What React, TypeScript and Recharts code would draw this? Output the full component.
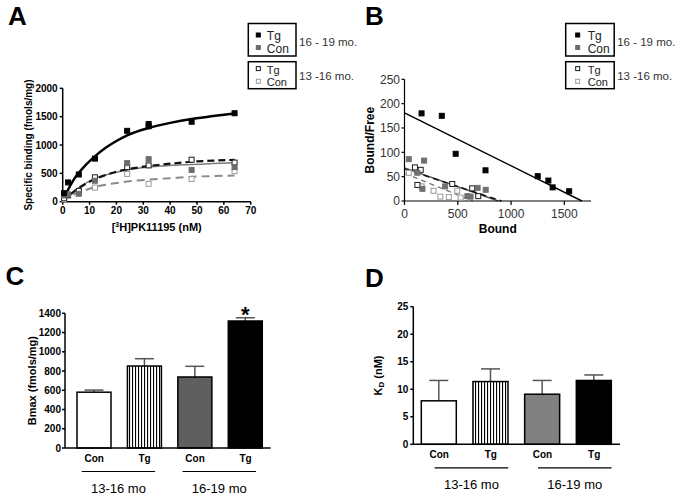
import React from 'react';
import {
  ComposedChart,
  BarChart,
  Bar,
  Cell,
  Line,
  Scatter,
  XAxis,
  YAxis,
  Label,
  LabelList,
} from 'recharts';

const FONT = '"Liberation Sans", Arial, Helvetica, sans-serif';

// ---------- A: saturation binding ----------
const satTicksX = [0, 10, 20, 30, 40, 50, 60, 70];
const satTicksY = [0, 500, 1000, 1500, 2000];

// points [nM, fmols/mg]
const satTgOld = [[0.5, 150], [2, 340], [6, 480], [12, 760], [24, 1250], [32, 1330], [32, 1370], [48, 1410], [64, 1560]];
const satConOld = [[0.5, 110], [2, 130], [6, 140], [12, 370], [24, 680], [32, 750], [48, 560], [64, 610]];
const satTgYoung = [[0.5, 60], [2, 120], [6, 190], [12, 430], [24, 610], [32, 640], [48, 740], [64, 690]];
const satConYoung = [[0.5, 40], [2, 100], [6, 170], [12, 250], [24, 490], [32, 315], [48, 400], [64, 540]];

// fitted curves
const satFitTgOld = [[0, 0], [2, 210], [4, 380], [6, 510], [8, 620], [12, 800], [16, 950], [20, 1070], [24, 1170], [32, 1300], [40, 1390], [48, 1460], [56, 1510], [64, 1555]];
const satFitTgYoung = [[0, 0], [2, 90], [4, 170], [6, 240], [8, 300], [12, 400], [16, 470], [20, 530], [24, 570], [32, 630], [40, 670], [48, 705], [56, 725], [64, 738]];
const satFitConOld = [[0, 0], [2, 100], [4, 180], [6, 250], [8, 310], [12, 410], [16, 470], [20, 520], [24, 560], [32, 610], [40, 640], [48, 655], [56, 672], [64, 685]];
const satFitConYoung = [[0, 0], [2, 70], [4, 120], [6, 170], [8, 200], [12, 260], [16, 300], [20, 330], [24, 355], [32, 390], [40, 415], [48, 440], [56, 452], [64, 460]];

// ---------- B: Scatchard ----------
const scTicksX = [0, 500, 1000, 1500];
const scTicksY = [0, 50, 100, 150, 200, 250];

const scTgOld = [[160, 180], [350, 175], [480, 97], [760, 63], [1250, 51], [1350, 42], [1390, 28], [1545, 20]];
const scConOld = [[40, 86], [184, 83], [168, 25], [381, 30], [590, 10], [620, 9], [686, 27], [762, 23], [120, 58]];
const scTgYoung = [[98, 69], [152, 64], [121, 33], [448, 35], [635, 26], [692, 10]];
const scConYoung = [[40, 58], [160, 30], [273, 21], [336, 9], [416, 8], [495, 21], [527, 7]];

const scFitTgOld = [[0, 181], [1665, 0]];
const scFitConOld = [[0, 68], [880, 0]];
const scFitTgYoung = [[0, 66], [910, 0]];
const scFitConYoung = [[0, 57], [640, 0]];

// ---------- C / D: bar charts ----------
const barCats = ['Con', 'Tg', 'Con', 'Tg'];
const barGroups = ['13-16 mo', '13-16 mo', '16-19 mo', '16-19 mo'];

const bmaxMean = [580, 852, 738, 1320];
const bmaxSem = [22, 76, 111, 34];
const bmaxSig = ['', '', '', '*'];
const bmaxTicks = [0, 200, 400, 600, 800, 1000, 1200, 1400];

const kdMean = [7.9, 11.4, 9.1, 11.6];
const kdSem = [3.7, 2.3, 2.5, 1.0];
const kdTicks = [0, 5, 10, 15, 20, 25];

const legendRows = ['Tg', 'Con'];
const ageLabels = ['16 - 19 mo.', '13 -16 mo.'];

const pts = (arr: number[][]) => arr.map(([x, y]) => ({ x, y }));

const square = (fill: string, stroke: string, s = 5) => (p: any) => (
  <rect x={p.cx - s / 2} y={p.cy - s / 2} width={s} height={s} fill={fill} stroke={stroke} strokeWidth={1} />
);

const boldTick = { fontSize: 10, fontWeight: 'bold', fill: '#000', fontFamily: FONT };
const blackAxis = { stroke: '#000', strokeWidth: 1.5 };

const yTitle = (content: React.ReactNode, x: number, size: number) => (props: any) => {
  const { viewBox } = props;
  const cy = viewBox.y + viewBox.height / 2;
  return (
    <text
      x={x}
      y={cy}
      transform={`rotate(-90 ${x} ${cy})`}
      textAnchor="middle"
      dominantBaseline="central"
      fontSize={size}
      fontWeight="bold"
      fontFamily={FONT}
      fill="#000"
    >
      {content}
    </text>
  );
};

const xTitle = (content: React.ReactNode, dy: number, size: number) => (props: any) => {
  const { viewBox } = props;
  return (
    <text
      x={viewBox.x + viewBox.width / 2}
      y={viewBox.y + dy}
      textAnchor="middle"
      fontSize={size}
      fontWeight="bold"
      fontFamily={FONT}
      fill="#000"
    >
      {content}
    </text>
  );
};

function PanelA() {
  return (
    <ComposedChart width={340} height={250} margin={{ top: 88.3, right: 89.3, bottom: 18.3, left: 0 }}>
      <XAxis
        type="number"
        dataKey="x"
        domain={[0, 70]}
        ticks={satTicksX}
        interval={0}
        height={30}
        tickSize={3}
        tickMargin={2}
        axisLine={blackAxis}
        tickLine={blackAxis}
        tick={boldTick}
      >
        <Label
          content={xTitle(
            <>
              [<tspan dy={-4} fontSize={7}>3</tspan>
              <tspan dy={4}>H]PK11195 (nM)</tspan>
            </>,
            29.5,
            11
          )}
        />
      </XAxis>
      <YAxis
        type="number"
        dataKey="y"
        domain={[0, 2000]}
        ticks={satTicksY}
        interval={0}
        width={62.7}
        tickSize={3}
        tickMargin={2}
        axisLine={blackAxis}
        tickLine={blackAxis}
        tick={boldTick}
      >
        <Label content={yTitle('Specific  binding  (fmols/mg)', 28.3, 10)} />
      </YAxis>

      <Line data={pts(satFitConYoung)} dataKey="y" type="monotone" stroke="#8a8a8a" strokeWidth={2} strokeDasharray="8 5" dot={false} isAnimationActive={false} />
      <Line data={pts(satFitConOld)} dataKey="y" type="monotone" stroke="#7a7a7a" strokeWidth={1.5} dot={false} isAnimationActive={false} />
      <Line data={pts(satFitTgYoung)} dataKey="y" type="monotone" stroke="#111" strokeWidth={2.2} strokeDasharray="7 4" dot={false} isAnimationActive={false} />
      <Line data={pts(satFitTgOld)} dataKey="y" type="monotone" stroke="#000" strokeWidth={2.5} dot={false} isAnimationActive={false} />

      <Scatter data={pts(satConYoung)} shape={square('#fff', '#9a9a9a')} isAnimationActive={false} />
      <Scatter data={pts(satTgYoung)} shape={square('#fff', '#1a1a1a')} isAnimationActive={false} />
      <Scatter data={pts(satConOld)} shape={square('#6b6b6b', '#6b6b6b')} isAnimationActive={false} />
      <Scatter data={pts(satTgOld)} shape={square('#000', '#000')} isAnimationActive={false} />
    </ComposedChart>
  );
}

function PanelB() {
  const thinTick = { fontSize: 12, fill: '#333', fontFamily: FONT };
  const axis = { stroke: '#000', strokeWidth: 1.2 };
  return (
    <ComposedChart width={342} height={250} margin={{ top: 79.3, right: 91, bottom: 19, left: 0 }}>
      <XAxis
        type="number"
        dataKey="x"
        domain={[0, 1750]}
        ticks={scTicksX}
        interval={0}
        height={30}
        tickSize={4}
        tickMargin={4}
        axisLine={axis}
        tickLine={axis}
        tick={thinTick}
      >
        <Label content={xTitle('Bound', 32, 12)} />
      </XAxis>
      <YAxis
        type="number"
        dataKey="y"
        domain={[0, 250]}
        ticks={scTicksY}
        interval={0}
        width={64.5}
        tickSize={3}
        tickMargin={1.5}
        axisLine={axis}
        tickLine={axis}
        tick={thinTick}
      >
        <Label content={yTitle('Bound/Free', 30, 12)} />
      </YAxis>

      <Line data={pts(scFitConYoung)} dataKey="y" type="linear" stroke="#777" strokeWidth={1.3} strokeDasharray="5 4" dot={false} isAnimationActive={false} />
      <Line data={pts(scFitConOld)} dataKey="y" type="linear" stroke="#555" strokeWidth={1.5} dot={false} isAnimationActive={false} />
      <Line data={pts(scFitTgYoung)} dataKey="y" type="linear" stroke="#111" strokeWidth={1.5} strokeDasharray="6 4" dot={false} isAnimationActive={false} />
      <Line data={pts(scFitTgOld)} dataKey="y" type="linear" stroke="#000" strokeWidth={1.5} dot={false} isAnimationActive={false} />

      <Scatter data={pts(scConYoung)} shape={square('#fff', '#9a9a9a')} isAnimationActive={false} />
      <Scatter data={pts(scTgYoung)} shape={square('#fff', '#1a1a1a')} isAnimationActive={false} />
      <Scatter data={pts(scConOld)} shape={square('#707070', '#707070')} isAnimationActive={false} />
      <Scatter data={pts(scTgOld)} shape={square('#000', '#000')} isAnimationActive={false} />
    </ComposedChart>
  );
}

// category label + age group line/label below the axis
const groupTick = (lineFrom: number, lineTo: number, band: number) => (props: any) => {
  const { x, y, payload } = props;
  const i = Number(payload.value);
  const x1 = x + lineFrom;
  const x2 = x + band + lineTo;
  return (
    <g fontFamily={FONT}>
      <text x={x} y={y + 13.5} textAnchor="middle" fontSize={10} fontWeight="bold" fill="#000">
        {barCats[i]}
      </text>
      {i % 2 === 0 && (
        <>
          <line x1={x1} x2={x2} y1={y + 23.5} y2={y + 23.5} stroke="#000" strokeWidth={1.2} />
          <text x={(x1 + x2) / 2} y={y + 45} textAnchor="middle" fontSize={13} fill="#000">
            {barGroups[i]}
          </text>
        </>
      )}
    </g>
  );
};

const barWithError = (capHalf: number) => (props: any) => {
  const { x, y, width, height, fill, payload } = props;
  const errPx = payload.mean ? (payload.sem / payload.mean) * height : 0;
  const cx = x + width / 2;
  const top = y - errPx;
  return (
    <g>
      <line x1={cx} x2={cx} y1={y} y2={top} stroke="#555" strokeWidth={1.5} />
      <line x1={cx - capHalf} x2={cx + capHalf} y1={top} y2={top} stroke="#555" strokeWidth={1.5} />
      <rect x={x} y={y} width={width} height={height} fill={fill} stroke="#000" strokeWidth={1.5} />
    </g>
  );
};

const starLabel = (p: any) =>
  p.value ? (
    <text x={p.x + p.width / 2} y={p.y + 1} textAnchor="middle" fontSize={22} fontWeight="bold" fontFamily={FONT} fill="#000">
      {p.value}
    </text>
  ) : null;

function PanelC() {
  const rows = barCats.map((c, i) => ({ id: i, mean: bmaxMean[i], sem: bmaxSem[i], sig: bmaxSig[i] }));
  const fills = ['#fff', 'url(#stripeC)', '#5f5f5f', '#000'];
  return (
    <BarChart width={340} height={252} data={rows} margin={{ top: 63.3, right: 69.3, bottom: 4, left: 0 }}>
      <defs>
        <pattern id="stripeC" patternUnits="userSpaceOnUse" width={3} height={6}>
          <rect width={3} height={6} fill="#fff" />
          <rect width={1.1} height={6} fill="#000" />
        </pattern>
      </defs>
      <XAxis
        dataKey="id"
        interval={0}
        height={50}
        padding={{ left: 4, right: 0 }}
        tickSize={0}
        tickMargin={0}
        tickLine={false}
        axisLine={blackAxis}
        tick={groupTick(-12.5, 10.5, 50.4)}
      />
      <YAxis
        type="number"
        domain={[0, 1400]}
        ticks={bmaxTicks}
        interval={0}
        width={65}
        tickSize={3}
        tickMargin={1}
        axisLine={blackAxis}
        tickLine={blackAxis}
        tick={boldTick}
      >
        <Label content={yTitle('Bmax (fmols/mg)', 31.7, 11)} />
      </YAxis>
      <Bar dataKey="mean" barSize={34} shape={barWithError(9.5)} isAnimationActive={false}>
        {rows.map((r, i) => (
          <Cell key={r.id} fill={fills[i]} />
        ))}
        <LabelList dataKey="sig" content={starLabel} />
      </Bar>
    </BarChart>
  );
}

function PanelD() {
  const rows = barCats.map((c, i) => ({ id: i, mean: kdMean[i], sem: kdSem[i] }));
  const fills = ['#fff', 'url(#stripeD)', '#808080', '#000'];
  return (
    <BarChart width={342} height={252} data={rows} margin={{ top: 56.7, right: 62, bottom: 7.7, left: 0 }}>
      <defs>
        <pattern id="stripeD" patternUnits="userSpaceOnUse" width={3} height={6}>
          <rect width={3} height={6} fill="#fff" />
          <rect width={1.1} height={6} fill="#000" />
        </pattern>
      </defs>
      <XAxis
        dataKey="id"
        interval={0}
        height={50}
        tickSize={0}
        tickMargin={0}
        tickLine={false}
        axisLine={blackAxis}
        tick={groupTick(-4.5, 17.5, 51.6)}
      />
      <YAxis
        type="number"
        domain={[0, 25]}
        ticks={kdTicks}
        interval={0}
        width={73.3}
        tickSize={3}
        tickMargin={2}
        axisLine={blackAxis}
        tickLine={blackAxis}
        tick={boldTick}
      >
        <Label
          content={yTitle(
            <>
              K<tspan fontSize={8} dy={3}>D</tspan>
              <tspan dy={-3}> (nM)</tspan>
            </>,
            38.3,
            11
          )}
        />
      </YAxis>
      <Bar dataKey="mean" barSize={35} shape={barWithError(9.5)} isAnimationActive={false}>
        {rows.map((r, i) => (
          <Cell key={r.id} fill={fills[i]} />
        ))}
      </Bar>
    </BarChart>
  );
}

function AgeLegend({ x, w, markDx, textDx }: { x: number; w: number; markDx: number; textDx: number }) {
  const boxes = [
    { y: 23.5, h: 32.5, size: 12, rows: [40, 52.5], marks: [['#000', '#000'], ['#6b6b6b', '#6b6b6b']] },
    { y: 61.7, h: 27, size: 11, rows: [73.6, 86.3], marks: [['#fff', '#1a1a1a'], ['#fff', '#9a9a9a']] },
  ];
  return (
    <g fontFamily={FONT} fill="#222">
      {boxes.map((b, bi) => (
        <g key={bi} fontSize={b.size}>
          <rect x={x} y={b.y} width={w} height={b.h} fill="#fff" stroke="#000" strokeWidth={1.5} />
          {legendRows.map((name, ri) => (
            <g key={name}>
              <rect
                x={x + markDx}
                y={b.rows[ri] - 7}
                width={4}
                height={4}
                fill={b.marks[ri][0]}
                stroke={b.marks[ri][1]}
                strokeWidth={1}
              />
              <text x={x + textDx} y={b.rows[ri]}>
                {name}
              </text>
            </g>
          ))}
          <text x={x + w + 3} y={bi === 0 ? 45.5 : 79.5} fontSize={11.5} fill="#333">
            {ageLabels[bi]}
          </text>
        </g>
      ))}
    </g>
  );
}

function Overlay() {
  const letter = { fontFamily: FONT, fontSize: 26, fontWeight: 'bold' as const, fill: '#000' };
  return (
    <svg width={682} height={502} style={{ position: 'absolute', left: 0, top: 0, pointerEvents: 'none' }}>
      <text x={8} y={25} {...letter}>A</text>
      <text x={365} y={25} {...letter}>B</text>
      <text x={5.5} y={285} {...letter}>C</text>
      <text x={365} y={287} {...letter}>D</text>
      <AgeLegend x={248.3} w={47.7} markDx={8} textDx={18.5} />
      <AgeLegend x={565.7} w={48.5} markDx={10} textDx={22} />
    </svg>
  );
}

export default function App() {
  return (
    <div
      style={{
        position: 'absolute',
        left: 0,
        top: 0,
        width: 682,
        height: 502,
        background: '#fff',
        overflow: 'hidden',
        fontFamily: FONT,
      }}
    >
      <div style={{ position: 'absolute', left: 0, top: 0 }}>
        <PanelA />
      </div>
      <div style={{ position: 'absolute', left: 340, top: 0 }}>
        <PanelB />
      </div>
      <div style={{ position: 'absolute', left: 0, top: 250 }}>
        <PanelC />
      </div>
      <div style={{ position: 'absolute', left: 340, top: 250 }}>
        <PanelD />
      </div>
      <Overlay />
    </div>
  );
}
